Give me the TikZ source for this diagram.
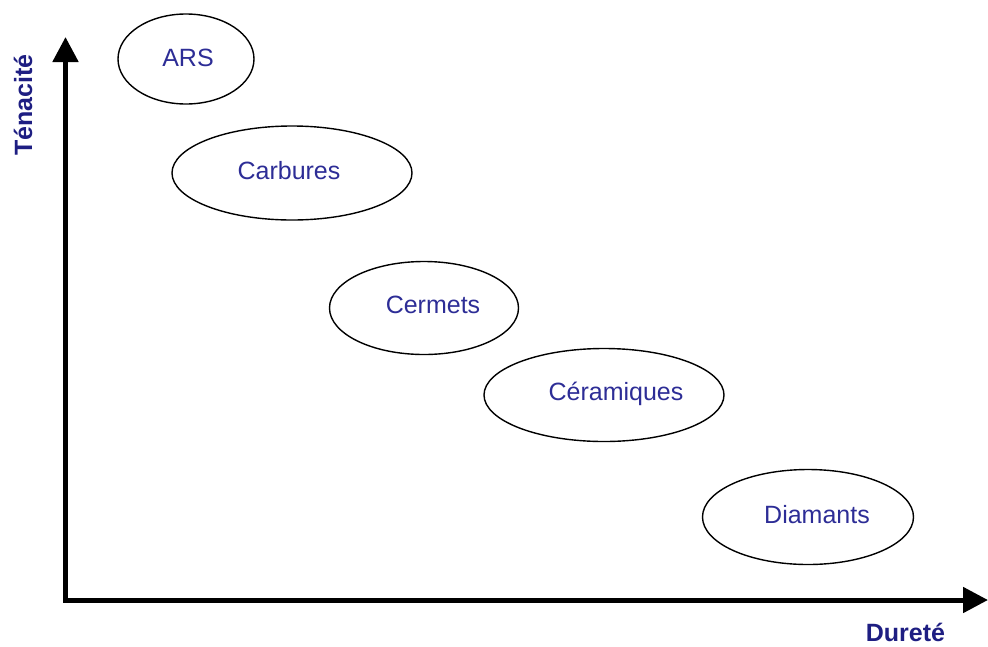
\documentclass[tikz,border=0pt]{standalone}
\usepackage{fontspec}
\setmainfont{Liberation Sans}
\usetikzlibrary{arrows.meta,shapes.geometric}
\definecolor{lbl}{RGB}{45,45,150}
\definecolor{axl}{RGB}{30,30,130}
\begin{document}
\begin{tikzpicture}[x=1pt,y=-1pt,
  mat/.style={draw=black,line width=1.4pt,ellipse,inner sep=0pt},
  txt/.style={text=lbl,inner sep=0pt,font=\fontsize{25}{27}\selectfont},
  axis/.style={line width=5pt,-{Triangle[length=25pt,width=25pt]}},
  axlabel/.style={text=axl,inner sep=0pt,font=\bfseries\fontsize{25}{27}\selectfont}]
\useasboundingbox (0,0) rectangle (988,646);
\coordinate (O) at (65.5,600);
\coordinate (ytip) at (65.5,37);
\coordinate (xtip) at (988,600);
\draw[axis] ([yshift=2.5pt]O) -- (ytip);
\draw[axis] ([xshift=-2.5pt]O) -- (xtip);
\node[axlabel,rotate=90] (ten) at (23,105) {Ténacité};
\node[axlabel] (dur) at (905.5,632.5) {Dureté};
\node[mat,minimum width=136pt,minimum height=90pt] (ars) at (186,59) {};
\node[mat,minimum width=240pt,minimum height=94pt] (car) at (292,173) {};
\node[mat,minimum width=189pt,minimum height=93pt] (cer) at (424,308) {};
\node[mat,minimum width=240pt,minimum height=93pt] (cera) at (604,395) {};
\node[mat,minimum width=211pt,minimum height=95pt] (dia) at (808,517) {};
\node[txt] (arst) at ([shift={(2,-1)}]ars.center) {ARS};
\node[txt] (cart) at ([shift={(-3,-2)}]car.center) {Carbures};
\node[txt] (cert) at ([shift={(9,-3)}]cer.center) {Cermets};
\node[txt] (cerat) at ([shift={(12,-1)}]cera.center) {Céramiques};
\node[txt] (diat) at ([shift={(9,-2)}]dia.center) {Diamants};
\end{tikzpicture}
\end{document}
